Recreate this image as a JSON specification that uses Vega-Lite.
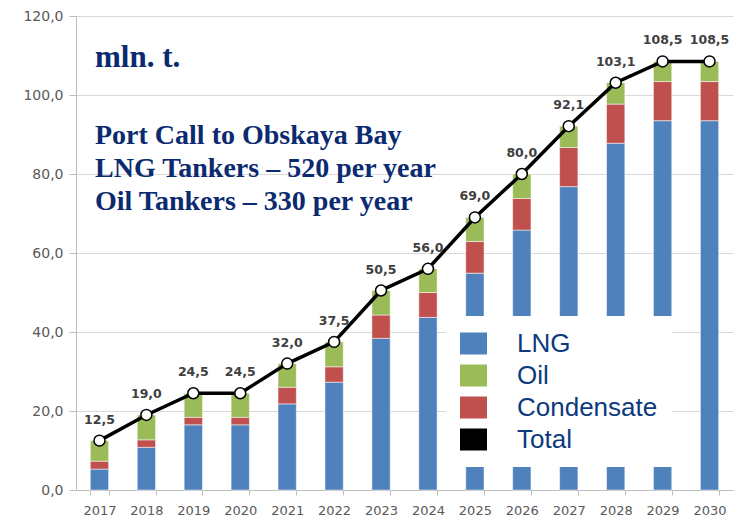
{
  "$schema": "https://vega.github.io/schema/vega-lite/v6.json",
  "width": 657,
  "height": 474,
  "autosize": "none",
  "padding": {"left": 76, "top": 16, "right": 8, "bottom": 29},
  "background": "white",
  "config": {"view": {"stroke": null}},
  "title": {
    "text": "mln. t.",
    "subtitle": ["Port Call to Obskaya Bay", "LNG Tankers – 520 per year", "Oil Tankers – 330 per year"],
    "anchor": "start",
    "frame": "group",
    "orient": "top",
    "offset": -208,
    "dx": 19,
    "font": "Liberation Serif",
    "fontSize": 31,
    "fontWeight": "bold",
    "color": "#0B2A6F",
    "subtitleFont": "Liberation Serif",
    "subtitleFontSize": 28,
    "subtitleFontWeight": "bold",
    "subtitleColor": "#0B2A6F",
    "subtitleLineHeight": 33,
    "subtitlePadding": 48
  },
  "datasets": {
    "stack": [
      {"year": "2017", "type": "LNG", "ord": 1, "value": 5.3},
      {"year": "2017", "type": "Condensate", "ord": 2, "value": 2.0},
      {"year": "2017", "type": "Oil", "ord": 3, "value": 5.2},
      {"year": "2018", "type": "LNG", "ord": 1, "value": 10.8},
      {"year": "2018", "type": "Condensate", "ord": 2, "value": 1.9},
      {"year": "2018", "type": "Oil", "ord": 3, "value": 6.3},
      {"year": "2019", "type": "LNG", "ord": 1, "value": 16.5},
      {"year": "2019", "type": "Condensate", "ord": 2, "value": 1.9},
      {"year": "2019", "type": "Oil", "ord": 3, "value": 6.1},
      {"year": "2020", "type": "LNG", "ord": 1, "value": 16.5},
      {"year": "2020", "type": "Condensate", "ord": 2, "value": 1.9},
      {"year": "2020", "type": "Oil", "ord": 3, "value": 6.1},
      {"year": "2021", "type": "LNG", "ord": 1, "value": 21.8},
      {"year": "2021", "type": "Condensate", "ord": 2, "value": 4.2},
      {"year": "2021", "type": "Oil", "ord": 3, "value": 6.0},
      {"year": "2022", "type": "LNG", "ord": 1, "value": 27.3},
      {"year": "2022", "type": "Condensate", "ord": 2, "value": 3.9},
      {"year": "2022", "type": "Oil", "ord": 3, "value": 6.3},
      {"year": "2023", "type": "LNG", "ord": 1, "value": 38.4},
      {"year": "2023", "type": "Condensate", "ord": 2, "value": 5.9},
      {"year": "2023", "type": "Oil", "ord": 3, "value": 6.2},
      {"year": "2024", "type": "LNG", "ord": 1, "value": 43.7},
      {"year": "2024", "type": "Condensate", "ord": 2, "value": 6.3},
      {"year": "2024", "type": "Oil", "ord": 3, "value": 6.0},
      {"year": "2025", "type": "LNG", "ord": 1, "value": 54.9},
      {"year": "2025", "type": "Condensate", "ord": 2, "value": 8.0},
      {"year": "2025", "type": "Oil", "ord": 3, "value": 6.1},
      {"year": "2026", "type": "LNG", "ord": 1, "value": 65.8},
      {"year": "2026", "type": "Condensate", "ord": 2, "value": 8.0},
      {"year": "2026", "type": "Oil", "ord": 3, "value": 6.2},
      {"year": "2027", "type": "LNG", "ord": 1, "value": 76.8},
      {"year": "2027", "type": "Condensate", "ord": 2, "value": 9.9},
      {"year": "2027", "type": "Oil", "ord": 3, "value": 5.4},
      {"year": "2028", "type": "LNG", "ord": 1, "value": 87.8},
      {"year": "2028", "type": "Condensate", "ord": 2, "value": 9.9},
      {"year": "2028", "type": "Oil", "ord": 3, "value": 5.4},
      {"year": "2029", "type": "LNG", "ord": 1, "value": 93.5},
      {"year": "2029", "type": "Condensate", "ord": 2, "value": 9.9},
      {"year": "2029", "type": "Oil", "ord": 3, "value": 5.1},
      {"year": "2030", "type": "LNG", "ord": 1, "value": 93.5},
      {"year": "2030", "type": "Condensate", "ord": 2, "value": 9.9},
      {"year": "2030", "type": "Oil", "ord": 3, "value": 5.1}
    ],
    "total": [
      {"year": "2017", "total": 12.5, "label": "12,5"},
      {"year": "2018", "total": 19.0, "label": "19,0"},
      {"year": "2019", "total": 24.5, "label": "24,5"},
      {"year": "2020", "total": 24.5, "label": "24,5"},
      {"year": "2021", "total": 32.0, "label": "32,0"},
      {"year": "2022", "total": 37.5, "label": "37,5"},
      {"year": "2023", "total": 50.5, "label": "50,5"},
      {"year": "2024", "total": 56.0, "label": "56,0"},
      {"year": "2025", "total": 69.0, "label": "69,0"},
      {"year": "2026", "total": 80.0, "label": "80,0"},
      {"year": "2027", "total": 92.1, "label": "92,1"},
      {"year": "2028", "total": 103.1, "label": "103,1"},
      {"year": "2029", "total": 108.5, "label": "108,5"},
      {"year": "2030", "total": 108.5, "label": "108,5"}
    ]
  },
  "encoding": {
    "x": {
      "field": "year",
      "type": "ordinal",
      "scale": {"paddingInner": 0.61, "paddingOuter": 0.305},
      "axis": {
        "title": null,
        "labelAngle": 0,
        "labelFont": "DejaVu Sans",
        "labelFontSize": 13,
        "labelColor": "#595959",
        "labelPadding": 9,
        "domainColor": "#BFBFBF",
        "tickColor": "#BFBFBF",
        "tickBand": "extent",
        "tickSize": 5,
        "grid": false
      }
    }
  },
  "layer": [
    {
      "data": {"name": "stack"},
      "mark": {"type": "bar", "stroke": "white", "strokeWidth": 0.5},
      "encoding": {
        "y": {
          "field": "value",
          "type": "quantitative",
          "stack": "zero",
          "scale": {"domain": [0, 120], "nice": false},
          "axis": {
            "title": null,
            "values": [0, 20, 40, 60, 80, 100, 120],
            "labelExpr": "replace(format(datum.value, '.1f'), '.', ',')",
            "labelFont": "DejaVu Sans",
            "labelFontSize": 14,
            "labelColor": "#595959",
            "labelPadding": 6,
            "domainColor": "#BFBFBF",
            "tickColor": "#BFBFBF",
            "tickSize": 7,
            "gridColor": "#D9D9D9",
            "gridWidth": 1.2
          }
        },
        "color": {
          "field": "type",
          "type": "nominal",
          "scale": {
            "domain": ["LNG", "Oil", "Condensate", "Total"],
            "range": ["#4F81BD", "#9BBB59", "#C0504D", "#000000"]
          },
          "legend": {
            "title": null,
            "orient": "none",
            "legendX": 370,
            "legendY": 300,
            "fillColor": "white",
            "padding": 14,
            "symbolType": "M-1,-0.815L1,-0.815L1,0.815L-1,0.815Z",
            "symbolSize": 729,
            "symbolStrokeWidth": 0,
            "labelFont": "Liberation Sans",
            "labelFontSize": 26,
            "labelColor": "#0B3A7E",
            "labelOffset": 30,
            "rowPadding": 5
          }
        },
        "order": {"field": "ord", "type": "quantitative"}
      }
    },
    {
      "data": {"name": "total"},
      "mark": {"type": "line", "color": "black", "strokeWidth": 3.5},
      "encoding": {"y": {"field": "total", "type": "quantitative"}}
    },
    {
      "data": {"name": "total"},
      "mark": {"type": "point", "shape": "circle", "filled": true, "fill": "white", "stroke": "black", "strokeWidth": 1.5, "size": 120, "opacity": 1},
      "encoding": {"y": {"field": "total", "type": "quantitative"}}
    },
    {
      "data": {"name": "total"},
      "mark": {"type": "text", "font": "DejaVu Sans", "fontWeight": "bold", "fontSize": 12.5, "color": "#404040", "baseline": "middle", "dy": -21},
      "encoding": {
        "y": {"field": "total", "type": "quantitative"},
        "text": {"field": "label"}
      }
    }
  ]
}
